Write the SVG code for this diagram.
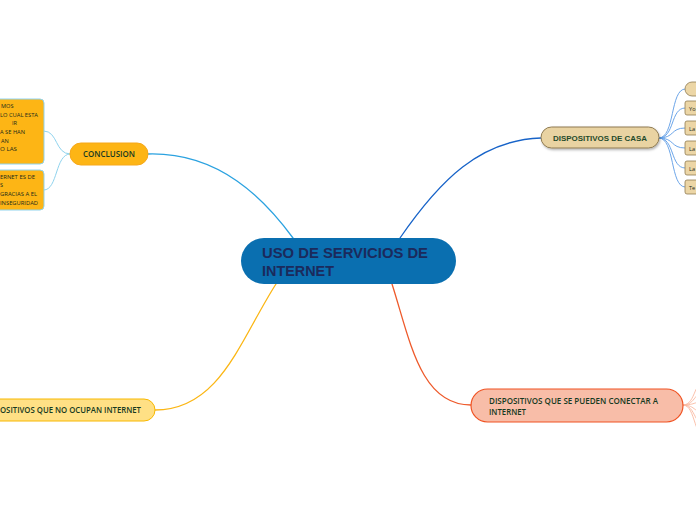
<svg xmlns="http://www.w3.org/2000/svg" width="696" height="520" viewBox="0 0 696 520">
<defs>
<filter id="sh" x="-10%" y="-30%" width="120%" height="160%">
<feDropShadow dx="1" dy="1.5" stdDeviation="1" flood-color="#000" flood-opacity="0.3"/>
</filter>
<style>
.c{fill:none;stroke-linecap:round}
.t{font-family:"Open Sans","Liberation Sans",sans-serif;font-weight:600;fill:#163a22}
.b{font-family:"Liberation Sans",Arial,sans-serif;font-weight:bold}
.sm{font-family:"Open Sans","Liberation Sans",sans-serif;font-size:5.6px;fill:#1a2a1a}
.dcc{fill:#ecd6a6;stroke:#8f7b52;stroke-width:0.8}
</style>
</defs>
<rect width="696" height="520" fill="#ffffff"/>
<g id="connectors">
<path class="c" d="M148,154 C220,152 265,200 293,238" stroke="#2ba2e0" stroke-width="1.3"/>
<path class="c" d="M400,238 C440,180 480,140 541,138" stroke="#1763c8" stroke-width="1.3"/>
<path class="c" d="M276,284 C240,340 220,410 155,410" stroke="#fbb614" stroke-width="1.3"/>
<path class="c" d="M392,284 C410,340 420,405 471,405" stroke="#ee5a2b" stroke-width="1.3"/>
<g stroke="#8fd3ee" stroke-width="1">
<path class="c" d="M70,154 C55,154 58,131 44,131"/>
<path class="c" d="M70,154 C55,154 58,190 44,190"/>
</g>
<g stroke="#5b9be5" stroke-width="0.9">
<path class="c" d="M659,138 C675,138 670,89 685,89"/>
<path class="c" d="M659,138 C675,138 670,108 685,108"/>
<path class="c" d="M659,138 C675,138 670,128 685,128"/>
<path class="c" d="M659,138 C675,138 670,148 685,148"/>
<path class="c" d="M659,138 C675,138 670,168 685,168"/>
<path class="c" d="M659,138 C675,138 670,187 685,187"/>
</g>
<g stroke="#f9b9a0" stroke-width="0.9">
<path class="c" d="M683,405 C697,405 692,378 712,376"/>
<path class="c" d="M683,405 C697,405 692,390 712,390"/>
<path class="c" d="M683,405 C697,405 692,401 712,401"/>
<path class="c" d="M683,405 C697,405 692,414 712,414"/>
<path class="c" d="M683,405 C697,405 692,428 712,428"/>
<path class="c" d="M683,405 C697,405 692,442 712,442"/>
</g>
</g>
<g id="central">
<rect x="241" y="238" width="215" height="46" rx="23" fill="#0a6fb0"/>
<text class="b" x="262" y="258" font-size="15" fill="#1b2a5c" textLength="166" lengthAdjust="spacingAndGlyphs">USO DE SERVICIOS DE</text>
<text class="b" x="262" y="275.5" font-size="15" fill="#1b2a5c" textLength="72" lengthAdjust="spacingAndGlyphs">INTERNET</text>
</g>
<g id="conclusion">
<rect x="70" y="143" width="78" height="22" rx="11" fill="#fdb515" stroke="#f6a81a" stroke-width="1"/>
<text class="t" x="83" y="157" font-size="8.5" textLength="52" lengthAdjust="spacingAndGlyphs">CONCLUSION</text>
</g>
<g id="conclusion-1">
<rect x="-10" y="99" width="54" height="65" rx="4" fill="#fdb515" stroke="#8fd3ee" stroke-width="1"/>
<text class="sm" x="1" y="108">MOS</text>
<text class="sm" x="0" y="116.5" textLength="38" lengthAdjust="spacingAndGlyphs">LO CUAL ESTA</text>
<text class="sm" x="12" y="125">IR</text>
<text class="sm" x="0" y="134" textLength="25" lengthAdjust="spacingAndGlyphs">A SE HAN</text>
<text class="sm" x="1" y="142.5">AN</text>
<text class="sm" x="0" y="151" textLength="17" lengthAdjust="spacingAndGlyphs">O LAS</text>
</g>
<g id="conclusion-2">
<rect x="-10" y="170" width="54" height="40" rx="4" fill="#fdb515" stroke="#8fd3ee" stroke-width="1"/>
<text class="sm" x="0" y="178.5" textLength="35" lengthAdjust="spacingAndGlyphs">ERNET ES DE</text>
<text class="sm" x="0" y="186.5">S</text>
<text class="sm" x="0" y="195.5" textLength="37" lengthAdjust="spacingAndGlyphs">GRACIAS A EL</text>
<text class="sm" x="0" y="204.5" textLength="38" lengthAdjust="spacingAndGlyphs">INSEGURIDAD</text>
</g>
<g id="dispositivos-casa">
<rect x="541" y="127" width="118" height="21" rx="10.5" fill="#e9d3a2" stroke="#8f7b52" stroke-width="1" filter="url(#sh)"/>
<text class="b" x="553" y="140.5" font-size="8" fill="#1f4a2a" textLength="94" lengthAdjust="spacingAndGlyphs">DISPOSITIVOS DE CASA</text>
</g>
<g id="casa-1"><rect class="dcc" x="685" y="82" width="30" height="14" rx="7"/></g>
<g id="casa-2"><rect class="dcc" x="685" y="101" width="30" height="14" rx="2"/><text class="sm" x="689" y="110.5">Yo</text></g>
<g id="casa-3"><rect class="dcc" x="685" y="121" width="30" height="14" rx="2"/><text class="sm" x="689" y="130.5">La</text></g>
<g id="casa-4"><rect class="dcc" x="685" y="141" width="30" height="14" rx="2"/><text class="sm" x="689" y="150.5">La</text></g>
<g id="casa-5"><rect class="dcc" x="685" y="161" width="30" height="14" rx="2"/><text class="sm" x="689" y="170.5">La</text></g>
<g id="casa-6"><rect class="dcc" x="685" y="180" width="30" height="14" rx="2"/><text class="sm" x="689" y="189.5">Te</text></g>
<g id="no-internet">
<rect x="-20" y="399" width="175" height="22" rx="11" fill="#ffe085" stroke="#f8b800" stroke-width="1"/>
<text class="t" x="0" y="413" font-size="8" textLength="141" lengthAdjust="spacingAndGlyphs">OSITIVOS QUE NO OCUPAN INTERNET</text>
</g>
<g id="conectar-internet">
<rect x="471" y="389" width="212" height="33" rx="16.5" fill="#f8bda8" stroke="#f05323" stroke-width="1.2"/>
<text class="t" x="489" y="404" font-size="8" textLength="169" lengthAdjust="spacingAndGlyphs">DISPOSITIVOS QUE SE PUEDEN CONECTAR A</text>
<text class="t" x="489" y="414.5" font-size="8" textLength="37" lengthAdjust="spacingAndGlyphs">INTERNET</text>
</g>
</svg>
